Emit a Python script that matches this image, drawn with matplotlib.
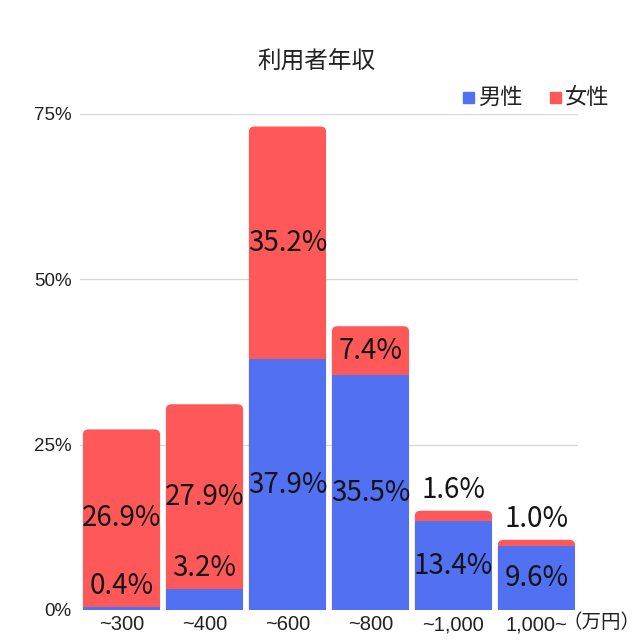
import numpy as np
import matplotlib
matplotlib.use("Agg")
import matplotlib.pyplot as plt
from matplotlib.patches import FancyBboxPatch

plt.rcParams['font.family'] = ['Noto Sans CJK JP', 'DejaVu Sans']

# データ
categories = ['~300', '~400', '~600', '~800', '~1,000', '1,000~']
male = [0.4, 3.2, 37.9, 35.5, 13.4, 9.6]
female = [26.9, 27.9, 35.2, 7.4, 1.6, 1.0]
yticks = [0, 25, 50, 75]

blue = '#5170f2'
red = '#ff5858'
txt = '#141414'

fig = plt.figure(figsize=(6.4, 6.4), dpi=100)
ax = fig.add_axes([0.125, 0.047, 0.778, 0.775])

x = np.arange(len(categories))
male = np.array(male)
female = np.array(female)
total = male + female
w = 0.93

# 女性: 全体の高さで角丸の棒を描き、その上に男性を重ねる
rects = ax.bar(x, total, width=w, color=red, zorder=2)
for r in rects:
    bx, by = r.get_x(), r.get_y()
    fb = FancyBboxPatch((bx, by - 3), r.get_width(), r.get_height() + 3,
                        boxstyle="round,pad=0,rounding_size=0.07",
                        mutation_aspect=11.0, facecolor=red, edgecolor='none',
                        zorder=2)
    r.remove()
    ax.add_patch(fb)
ax.bar(x, male, width=w, color=blue, zorder=3)

# ラベル
for i in range(len(x)):
    for val, base in ((male[i], 0), (female[i], male[i])):
        s = f'{val:.1f}%'
        if val < 5:
            ax.annotate(s, (x[i], base + val), xytext=(0, 15),
                        textcoords='offset points', ha='center', va='center',
                        fontsize=20, color=txt, zorder=5)
        else:
            ax.text(x[i], base + val / 2, s, ha='center', va='center',
                    fontsize=20, color=txt, zorder=5)

ax.set_xlim(-0.5, len(x) - 0.5)
ax.set_ylim(0, 75)
ax.set_yticks(yticks)
ax.set_yticklabels([f'{t}%' for t in yticks], family=['Liberation Sans'],
                   fontsize=13.5, color='#222222')
ax.set_xticks(x)
ax.set_xticklabels(categories, family=['Liberation Sans'], fontsize=14.5,
                   color='#222222')
ax.tick_params(length=0, pad=4)
ax.tick_params(axis='y', pad=6)
ax.grid(axis='y', color='#d9d9d9', lw=1, zorder=0)
for sp in ax.spines.values():
    sp.set_visible(False)

ax.text(0.97, -0.025, '（万円）', transform=ax.transAxes, ha='left', va='center',
        fontsize=14, color='#222222')

fig.text(0.494, 0.903, '利用者年収', ha='center', va='center', fontsize=17,
         color='#222222')

# 凡例
fig.patches.append(plt.Rectangle((463 / 640, 1 - 103 / 640), 11 / 640, 11 / 640,
                                 transform=fig.transFigure, color=blue))
fig.text(478 / 640, 1 - 97 / 640, '男性', ha='left', va='center', fontsize=16,
         color='#222222')
fig.patches.append(plt.Rectangle((550 / 640, 1 - 103 / 640), 11 / 640, 11 / 640,
                                 transform=fig.transFigure, color=red))
fig.text(565 / 640, 1 - 97 / 640, '女性', ha='left', va='center', fontsize=16,
         color='#222222')

fig.savefig('out.png', dpi=100, facecolor='white')
